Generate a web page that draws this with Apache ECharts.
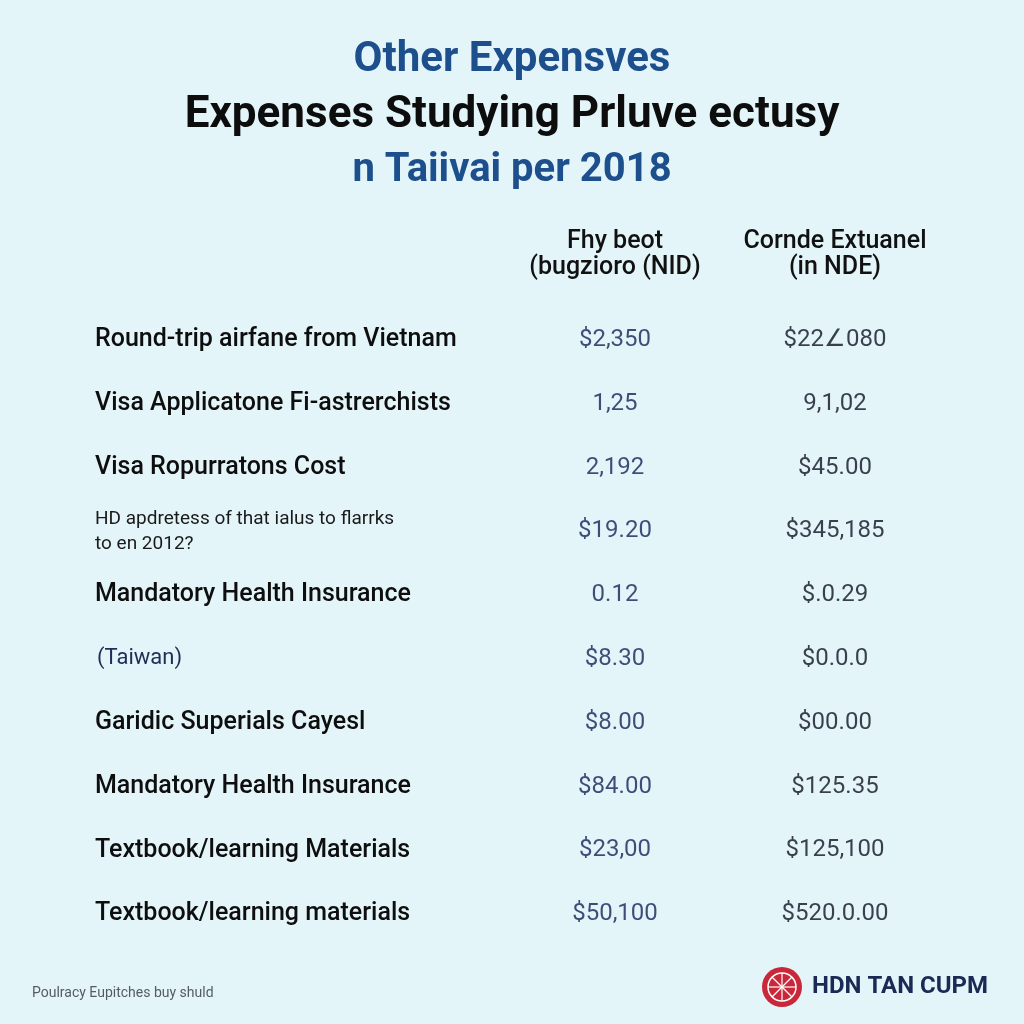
<!DOCTYPE html>
<html>
<head>
<meta charset="utf-8">
<script src="https://cdn.jsdelivr.net/npm/echarts@6/dist/echarts.min.js"></script>
<style>html,body{margin:0;padding:0;background:#e4f5fa;}#c{width:1024px;height:1024px;}</style>
</head>
<body>
<div id="c"></div>
<script>
const titleLines = ['Other Expensves', 'Expenses Studying Prluve ectusy', 'n Taiivai per 2018'];
const colHeaders = ['Fhy beot\n(bugzioro (NID)', 'Cornde Extuanel\n(in NDE)'];
const rowLabels = [
  'Round-trip airfane from Vietnam',
  'Visa Applicatone Fi-astrerchists',
  'Visa Ropurratons Cost',
  'HD apdretess of that ialus to flarrks\nto en 2012?',
  'Mandatory Health Insurance',
  '(Taiwan)',
  'Garidic Superials Cayesl',
  'Mandatory Health Insurance',
  'Textbook/learning Materials',
  'Textbook/learning materials'
];
const col1Values = ['$2,350', '1,25', '2,192', '$19.20', '0.12', '$8.30', '$8.00', '$84.00', '$23,00', '$50,100'];
const col2Values = ['$22\u2220080', '9,1,02', '$45.00', '$345,185', '$.0.29', '$0.0.0', '$00.00', '$125.35', '$125,100', '$520.0.00'];
const footnote = 'Poulracy Eupitches buy shuld';
const brand = 'HDN TAN CUPM';

const FONT = 'Roboto, "Noto Sans", sans-serif';
const chart = echarts.init(document.getElementById('c'));

function colSeries(colIdx, values, color) {
  return {
    type: 'scatter',
    symbolSize: 2,
    itemStyle: { color: 'rgba(0,0,0,0)' },
    silent: true,
    data: values.map((v, i) => [colIdx, i]),
    label: {
      show: true,
      position: 'inside',
      formatter: p => values[p.dataIndex],
      fontFamily: FONT,
      fontSize: 24,
      color: color,
      textBorderWidth: 0
    },
    labelLayout: { hideOverlap: false }
  };
}

chart.setOption({
  backgroundColor: '#e4f5fa',
  animation: false,
  title: {
    left: 'center',
    top: 28,
    text: '{a|' + titleLines[0] + '}\n{b|' + titleLines[1] + '}\n{c|' + titleLines[2] + '}',
    textStyle: {
      rich: {
        a: { fontFamily: FONT, fontSize: 42, fontWeight: 'bold', color: '#1c4f8c', lineHeight: 55, align: 'center' },
        b: { fontFamily: FONT, fontSize: 44, fontWeight: 'bold', color: '#0d0d0d', lineHeight: 55, align: 'center' },
        c: { fontFamily: FONT, fontSize: 40, fontWeight: 'bold', color: '#1c4f8c', lineHeight: 55, align: 'center' }
      }
    }
  },
  grid: { left: 505, right: 79, top: 308, bottom: 78 },
  xAxis: {
    type: 'category',
    position: 'top',
    data: colHeaders,
    axisLine: { show: false },
    axisTick: { show: false },
    splitLine: { show: false },
    axisLabel: {
      margin: 27,
      fontFamily: FONT,
      fontSize: 25,
      fontWeight: 500,
      color: '#111111',
      lineHeight: 26,
      interval: 0
    }
  },
  yAxis: {
    type: 'category',
    inverse: true,
    data: rowLabels,
    axisLine: { show: false },
    axisTick: { show: false },
    splitLine: { show: false },
    axisLabel: {
      interval: 0,
      margin: 410,
      align: 'left',
      formatter: function (v, i) {
        if (i === 3) return v.split('\n').map(s => '{s|' + s + '}').join('\n');
        if (i === 5) return '{t|' + v + '}';
        return '{b|' + v + '}';
      },
      rich: {
        b: { fontFamily: FONT, fontSize: 25, fontWeight: 500, color: '#0e0e0e', align: 'left' },
        s: { fontFamily: FONT, fontSize: 19, color: '#1a1a1a', lineHeight: 25, align: 'left' },
        t: { fontFamily: FONT, fontSize: 22, color: '#1e2e55', align: 'left', padding: [0, 2, 0, 2] }
      }
    }
  },
  series: [
    colSeries(0, col1Values, '#142358'),
    colSeries(1, col2Values, '#0e1222')
  ],
  graphic: [
    { type: 'text', left: 32, top: 986, style: { text: footnote, fontFamily: FONT, fontSize: 14, fill: '#555b63' } },
    { type: 'circle', shape: { cx: 782, cy: 987, r: 20 }, style: { fill: '#c8283a' } },
    { type: 'circle', shape: { cx: 782, cy: 987, r: 14 }, style: { fill: 'none', stroke: '#ffffff', lineWidth: 1.5 } },
    { type: 'line', shape: { x1: 768, y1: 987, x2: 796, y2: 987 }, style: { stroke: '#ffffff', lineWidth: 1.2 } },
    { type: 'line', shape: { x1: 782, y1: 973, x2: 782, y2: 1001 }, style: { stroke: '#ffffff', lineWidth: 1.2 } },
    { type: 'line', shape: { x1: 772, y1: 977, x2: 792, y2: 997 }, style: { stroke: '#ffffff', lineWidth: 1.2 } },
    { type: 'line', shape: { x1: 792, y1: 977, x2: 772, y2: 997 }, style: { stroke: '#ffffff', lineWidth: 1.2 } },
    { type: 'text', left: 812, top: 975, style: { text: brand, fontFamily: FONT, fontSize: 24, fontWeight: 'bold', fill: '#1b2a55' } }
  ]
});
</script>
</body>
</html>
